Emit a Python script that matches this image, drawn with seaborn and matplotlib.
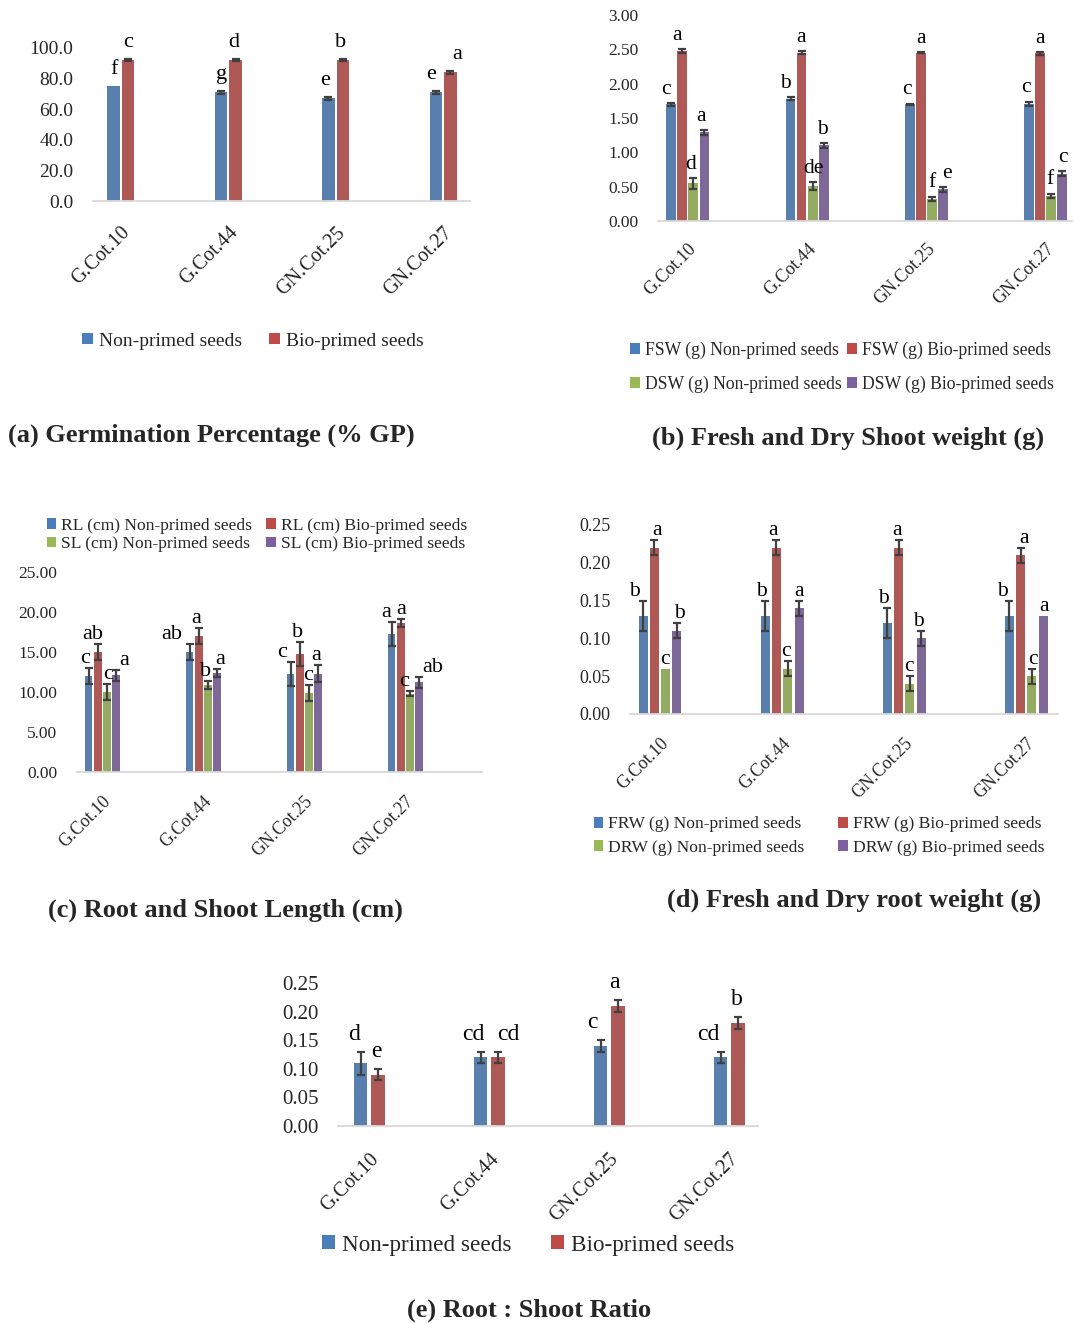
import numpy as np
import pandas as pd
import matplotlib
matplotlib.use("Agg")
import matplotlib.pyplot as plt
from matplotlib.patches import Patch
from matplotlib.transforms import ScaledTranslation
import seaborn as sns

# ---------------------------------------------------------------- data
cultivars = ["G.Cot.10", "G.Cot.44", "GN.Cot.25", "GN.Cot.27"]

# (a) Germination percentage
gp_non = [75.0, 71.0, 67.0, 71.0]
gp_bio = [92.0, 92.0, 92.0, 84.0]
gp_non_err = [0.0, 0.8, 0.8, 0.8]
gp_bio_err = [0.8, 0.8, 0.8, 0.8]
gp_non_grp = ["f", "g", "e", "e"]
gp_bio_grp = ["c", "d", "b", "a"]

# (b) Fresh and dry shoot weight (g)
fsw_non = [1.70, 1.78, 1.70, 1.71]
fsw_bio = [2.47, 2.45, 2.45, 2.44]
dsw_non = [0.55, 0.51, 0.32, 0.37]
dsw_bio = [1.29, 1.10, 0.46, 0.69]
fsw_non_err = [0.02, 0.02, 0.01, 0.03]
fsw_bio_err = [0.03, 0.02, 0.01, 0.02]
dsw_non_err = [0.08, 0.06, 0.035, 0.03]
dsw_bio_err = [0.04, 0.03, 0.04, 0.04]
fsw_non_grp = ["c", "b", "c", "c"]
fsw_bio_grp = ["a", "a", "a", "a"]
dsw_non_grp = ["d", "de", "f", "f"]
dsw_bio_grp = ["a", "b", "e", "c"]

# (c) Root and shoot length (cm)
rl_non = [12.0, 15.0, 12.3, 17.3]
rl_bio = [15.0, 17.0, 14.7, 18.6]
sl_non = [10.0, 10.9, 9.9, 9.8]
sl_bio = [12.1, 12.4, 12.3, 11.2]
rl_non_err = [1.0, 1.0, 1.5, 1.5]
rl_bio_err = [1.0, 1.0, 1.5, 0.5]
sl_non_err = [1.0, 0.5, 1.0, 0.3]
sl_bio_err = [0.7, 0.5, 1.1, 0.7]
rl_non_grp = ["c", "ab", "c", "a"]
rl_bio_grp = ["ab", "a", "b", "a"]
sl_non_grp = ["c", "b", "c", "c"]
sl_bio_grp = ["a", "a", "a", "ab"]

# (d) Fresh and dry root weight (g)
frw_non = [0.13, 0.13, 0.12, 0.13]
frw_bio = [0.22, 0.22, 0.22, 0.21]
drw_non = [0.06, 0.06, 0.04, 0.05]
drw_bio = [0.11, 0.14, 0.10, 0.13]
frw_non_err = [0.02, 0.02, 0.02, 0.02]
frw_bio_err = [0.01, 0.01, 0.01, 0.01]
drw_non_err = [0.0, 0.01, 0.01, 0.01]
drw_bio_err = [0.01, 0.01, 0.01, 0.0]
frw_non_grp = ["b", "b", "b", "b"]
frw_bio_grp = ["a", "a", "a", "a"]
drw_non_grp = ["c", "c", "c", "c"]
drw_bio_grp = ["b", "a", "b", "a"]

# (e) Root : shoot ratio
rs_non = [0.11, 0.12, 0.14, 0.12]
rs_bio = [0.09, 0.12, 0.21, 0.18]
rs_non_err = [0.02, 0.01, 0.01, 0.01]
rs_bio_err = [0.01, 0.01, 0.01, 0.01]
rs_non_grp = ["d", "cd", "c", "cd"]
rs_bio_grp = ["e", "cd", "a", "b"]

BLUE, RED, GREEN, PURPLE = "#4A7EBB", "#BE4B48", "#98B954", "#7D60A0"

# horizontal nudges (pixels) for the significance letters, one row per series
nudge_a = [[0, 0, -3, -5], [0, -2, -2, 7]]
nudge_b = [[-5, -5, -3, -3], [-5, -1, 0, 0], [-3, 1, 0, -1], [-3, -1, 4, 1]]
nudge_c = [[-4, -18, -9, -5], [-5, -3, -2, 0], [1, -2, -1, -6], [8, 3, -2, 14]]
nudge_d = [[-9, -4, -4, -7], [3, -3, -2, 3], [-1, -2, -1, 1], [2, 0, -3, 1]]
nudge_e = [[-6, -7, -8, -12], [-2, 10, -4, -1]]

# ---------------------------------------------------------------- style
sns.set_style("white")
plt.rcParams["font.family"] = ["Liberation Serif", "DejaVu Serif"]

W, H = 1074, 1324
fig = plt.figure(figsize=(W / 100, H / 100), dpi=100)
fig.patch.set_facecolor("white")
PT = 72 / 100  # points per pixel


def px_rect(x0, x1, ytop, ybot):
    return [x0 / W, 1 - ybot / H, (x1 - x0) / W, (ybot - ytop) / H]


def bar_panel(rect, series, nudges, ylim, yticks, fmt, xlim, width, gap,
              fs_tick, fs_cat, cat_pad, fs_letter, letter_dy):
    rows = []
    for name, vals, errs, lets, col in series:
        for c, v in zip(cultivars, vals):
            rows.append({"Cultivar": c, "Series": name, "Value": v})
    df = pd.DataFrame(rows)
    ax = fig.add_axes(px_rect(*rect))
    sns.barplot(data=df, x="Cultivar", y="Value", hue="Series",
                order=cultivars, hue_order=[s[0] for s in series],
                palette=[s[4] for s in series], width=width, gap=gap,
                errorbar=None, legend=False, linewidth=0, ax=ax)
    for cont, (name, vals, errs, lets, col), nud in zip(ax.containers, series,
                                                        nudges):
        xs = np.array([p.get_x() + p.get_width() / 2 for p in cont.patches])
        hs = np.array([p.get_height() for p in cont.patches])
        es = np.array(errs)
        m = es > 0
        if m.any():
            ax.errorbar(xs[m], hs[m], yerr=es[m], fmt="none", ecolor="#404040",
                        elinewidth=1.6, capsize=3.2, capthick=1.6, zorder=5)
        for x, h, e, l, dx in zip(xs, hs, es, lets, nud):
            ax.annotate(l, (x, h + e), xytext=(dx * PT, letter_dy),
                        textcoords="offset points",
                        ha="center", va="bottom", fontsize=fs_letter,
                        color="black", annotation_clip=False)
    ax.set_ylim(*ylim)
    ax.set_xlim(*xlim)
    ax.set_yticks(yticks)
    ax.set_yticklabels([fmt.format(t) for t in yticks], fontsize=fs_tick)
    ax.set_xticks(range(len(cultivars)))
    ax.set_xticklabels(cultivars, rotation=45, ha="right",
                       rotation_mode="anchor", fontsize=fs_cat)
    shift = ScaledTranslation(-5 / 100, 0, fig.dpi_scale_trans)
    for lab in ax.get_xticklabels():
        lab.set_transform(lab.get_transform() + shift)
    ax.tick_params(axis="y", length=0, pad=14)
    ax.tick_params(axis="x", length=0, pad=cat_pad)
    ax.set_xlabel("")
    ax.set_ylabel("")
    for s in ("top", "left", "right"):
        ax.spines[s].set_visible(False)
    ax.spines["bottom"].set_color("#D9D9D9")
    ax.spines["bottom"].set_linewidth(1.3)
    ax.set_facecolor("none")
    return ax


def legend(series, cx, cy, ncol, fs, colsp, labsp):
    handles = [Patch(facecolor=s[4], edgecolor="none") for s in series]
    labels = [s[0] for s in series]
    fig.legend(handles, labels, loc="center",
               bbox_to_anchor=(cx / W, 1 - cy / H), ncol=ncol, frameon=False,
               fontsize=fs, handlelength=0.55, handleheight=0.55,
               handletextpad=0.3, columnspacing=colsp, labelspacing=labsp,
               borderpad=0, borderaxespad=0)


def title(text, x, y, fs):
    fig.text(x / W, 1 - y / H, text, fontsize=fs, fontweight="bold",
             ha="left", va="center")


# ---------------------------------------------------------------- (a)
ser_a = [("Non-primed seeds", gp_non, gp_non_err, gp_non_grp, BLUE),
         ("Bio-primed seeds", gp_bio, gp_bio_err, gp_bio_grp, RED)]
bar_panel((93, 470, 48, 201), ser_a, nudge_a, (0, 100),
          [0, 20, 40, 60, 80, 100], "{:.1f}", (-0.26, 3.25), 0.27, 0.14,
          14, 14.5, 16, 16, 5)
legend(ser_a, 253, 341, 2, 14, 1.4, 0.5)
title("(a) Germination Percentage (% GP)", 8, 435, 19)

# ---------------------------------------------------------------- (b)
ser_b = [("FSW (g) Non-primed seeds", fsw_non, fsw_non_err, fsw_non_grp, BLUE),
         ("FSW (g) Bio-primed seeds", fsw_bio, fsw_bio_err, fsw_bio_grp, RED),
         ("DSW (g) Non-primed seeds", dsw_non, dsw_non_err, dsw_non_grp, GREEN),
         ("DSW (g) Bio-primed seeds", dsw_bio, dsw_bio_err, dsw_bio_grp, PURPLE)]
bar_panel((658, 1072, 15, 221), ser_b, nudge_b, (0, 3.0),
          [0, 0.5, 1.0, 1.5, 2.0, 2.5, 3.0], "{:.2f}", (-0.25, 3.22),
          0.37, 0.12, 12.5, 13, 14, 15.5, 3)
legend([ser_b[0], ser_b[2], ser_b[1], ser_b[3]], 842, 367, 2, 12.7, 0.3, 0.95)
title("(b) Fresh and Dry Shoot weight (g)", 652, 438, 19)

# ---------------------------------------------------------------- (c)
ser_c = [("RL (cm) Non-primed seeds", rl_non, rl_non_err, rl_non_grp, BLUE),
         ("RL (cm) Bio-primed seeds", rl_bio, rl_bio_err, rl_bio_grp, RED),
         ("SL (cm) Non-primed seeds", sl_non, sl_non_err, sl_non_grp, GREEN),
         ("SL (cm) Bio-primed seeds", sl_bio, sl_bio_err, sl_bio_grp, PURPLE)]
bar_panel((77, 482, 572, 772), ser_c, nudge_c, (0, 25),
          [0, 5, 10, 15, 20, 25], "{:.2f}", (-0.25, 3.76), 0.36, 0.15,
          12.5, 12.8, 15, 16, 0)
legend([ser_c[0], ser_c[2], ser_c[1], ser_c[3]], 257, 535, 2, 12.6, 0.8, 0.15)
title("(c) Root and Shoot Length (cm)", 48, 910, 19)

# ---------------------------------------------------------------- (d)
ser_d = [("FRW (g) Non-primed seeds", frw_non, frw_non_err, frw_non_grp, BLUE),
         ("FRW (g) Bio-primed seeds", frw_bio, frw_bio_err, frw_bio_grp, RED),
         ("DRW (g) Non-primed seeds", drw_non, drw_non_err, drw_non_grp, GREEN),
         ("DRW (g) Bio-primed seeds", drw_bio, drw_bio_err, drw_bio_grp, PURPLE)]
bar_panel((630, 1058, 525, 714), ser_d, nudge_d, (0, 0.25),
          [0, 0.05, 0.10, 0.15, 0.20, 0.25], "{:.2f}", (-0.246, 3.26),
          0.37, 0.2, 13, 12.8, 15, 15.5, 0)
legend([ser_d[0], ser_d[2], ser_d[1], ser_d[3]], 819, 836, 2, 12.6, 1.9, 0.4)
title("(d) Fresh and Dry root weight (g)", 667, 900, 19)

# ---------------------------------------------------------------- (e)
ser_e = [("Non-primed seeds", rs_non, rs_non_err, rs_non_grp, BLUE),
         ("Bio-primed seeds", rs_bio, rs_bio_err, rs_bio_grp, RED)]
bar_panel((338, 758, 983, 1126), ser_e, nudge_e, (0, 0.25),
          [0, 0.05, 0.10, 0.15, 0.20, 0.25], "{:.2f}", (-0.26, 3.24),
          0.29, 0.23, 15, 14.5, 17, 17, 5)
legend(ser_e, 528, 1245, 2, 16.7, 1.7, 0.5)
title("(e) Root : Shoot Ratio", 407, 1310, 19)

fig.savefig("out.png", dpi=100, facecolor="white")
